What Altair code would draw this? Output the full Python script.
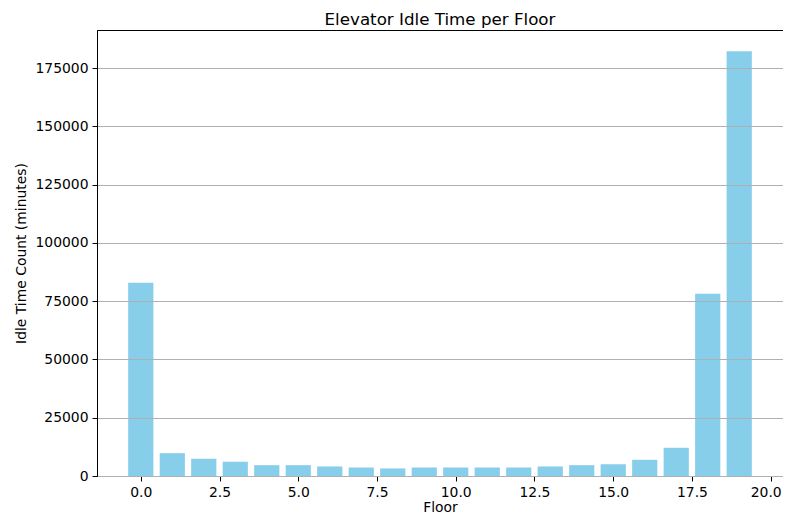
import altair as alt
import pandas as pd

floors = list(range(20))
idle_minutes = [82900, 9800, 7400, 6100, 4650, 4650, 4100, 3650, 3250, 3650,
                3650, 3650, 3650, 4100, 4650, 5050, 6950, 12100, 78200, 182300]
x_ticks = [0, 2.5, 5, 7.5, 10, 12.5, 15, 17.5, 20]
y_ticks = [0, 25000, 50000, 75000, 100000, 125000, 150000, 175000]

df = pd.DataFrame({"floor": floors, "idle": idle_minutes})

FONT = "DejaVu Sans"

chart = alt.Chart(df).transform_calculate(
    x0="datum.floor - 0.4", x1="datum.floor + 0.4"
).mark_bar(color="#87CEEB").encode(
    x=alt.X("x0:Q",
            scale=alt.Scale(domain=[-1.39, 20.39], nice=False, zero=False),
            axis=alt.Axis(values=x_ticks, format=".1f", title="Floor", grid=False,
                          tickSize=5, labelPadding=4, titlePadding=2,
                          labelOffset=alt.ExprRef("datum.value == 20 ? -5 : 0"),
                          domainColor="black", tickColor="black", labelColor="black",
                          labelFontSize=13.9, titleFontSize=13.9, titleFontWeight="normal",
                          labelFont=FONT, titleFont=FONT, titleColor="black",
                          labelFlush=False)),
    x2="x1:Q",
    y=alt.Y("idle:Q",
            scale=alt.Scale(domain=[0, 191400], nice=False),
            axis=alt.Axis(values=y_ticks, format="d", title="Idle Time Count (minutes)",
                          grid=True, gridColor="#b0b0b0", gridWidth=1.1, zindex=1,
                          tickSize=5, labelPadding=4, titlePadding=6,
                          domainColor="black", tickColor="black", labelColor="black",
                          labelFontSize=13.9, titleFontSize=13.9, titleFontWeight="normal",
                          labelFont=FONT, titleFont=FONT, titleColor="black",
                          labelFlush=False)),
    y2=alt.datum(0),
).properties(
    width=686, height=446,
    title=alt.TitleParams("Elevator Idle Time per Floor", font=FONT, fontSize=16.7,
                          fontWeight="normal", color="black", offset=1),
    autosize=alt.AutoSizeParams(type="none"),
    padding={"left": 89, "top": 22, "right": 0, "bottom": 40},
).configure_view(stroke="black", strokeWidth=1)

chart.save("out.html", embed_options={"renderer": "svg", "actions": False})
